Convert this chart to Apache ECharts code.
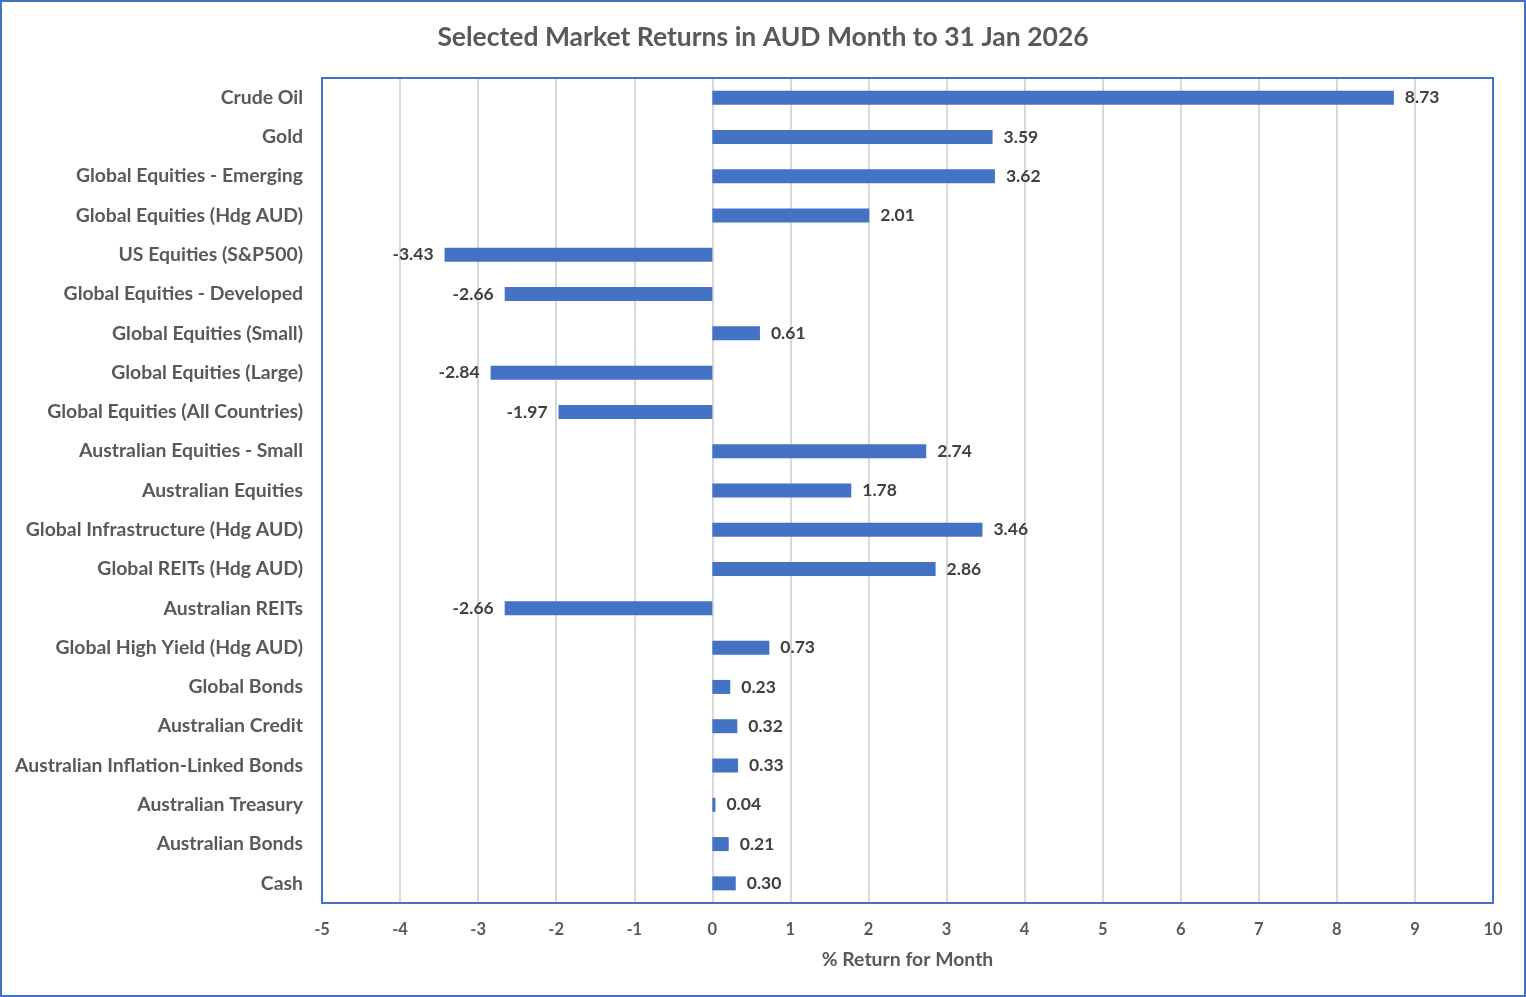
<!DOCTYPE html>
<html><head><meta charset="utf-8">
<script src="https://cdn.jsdelivr.net/npm/echarts@6/dist/echarts.min.js"></script>
<style>html,body{margin:0;padding:0;background:#fff}#c{width:1526px;height:997px}</style>
</head><body><div id="c"></div>
<script>
const categories = ["Crude Oil","Gold","Global Equities - Emerging","Global Equities (Hdg AUD)","US Equities (S&P500)","Global Equities - Developed","Global Equities (Small)","Global Equities (Large)","Global Equities (All Countries)","Australian Equities - Small","Australian Equities","Global Infrastructure (Hdg AUD)","Global REITs (Hdg AUD)","Australian REITs","Global High Yield (Hdg AUD)","Global Bonds","Australian Credit","Australian Inflation-Linked Bonds","Australian Treasury","Australian Bonds","Cash"];
const returns = [8.73,3.59,3.62,2.01,-3.43,-2.66,0.61,-2.84,-1.97,2.74,1.78,3.46,2.86,-2.66,0.73,0.23,0.32,0.33,0.04,0.21,0.30];
const titleText = "Selected Market Returns in AUD Month to 31 Jan 2026";
const axisName = "% Return for Month";
const FONT = "Lato";
const chart = echarts.init(document.getElementById('c'));
chart.setOption({
  animation:false,
  backgroundColor:'#fff',
  title:{text:titleText,left:'center',top:19,textStyle:{fontFamily:FONT,fontSize:26.5,fontWeight:'bold',color:'#595959'}},
  graphic:[
    {type:'rect',z:100,shape:{x:1,y:1,width:1524,height:995},style:{fill:'none',stroke:'#4472C4',lineWidth:2},silent:true},
    {type:'rect',z:100,shape:{x:322,y:78,width:1171,height:825},style:{fill:'none',stroke:'#4472C4',lineWidth:2},silent:true}
  ],
  grid:{left:322,top:78,width:1171,height:825,show:false,containLabel:false},
  xAxis:{type:'value',min:-5,max:10,interval:1,
    axisLine:{show:false},axisTick:{show:false},
    splitLine:{show:true,lineStyle:{color:'#D9D9D9',width:2}},
    axisLabel:{fontFamily:FONT,fontSize:16.5,fontWeight:'bold',color:'#595959',margin:18},
    name:axisName,nameLocation:'middle',nameGap:47,
    nameTextStyle:{fontFamily:FONT,fontSize:19.4,fontWeight:'bold',color:'#595959'}},
  yAxis:{type:'category',data:categories,inverse:true,
    axisLine:{show:false},axisTick:{show:false},
    axisLabel:{fontFamily:FONT,fontSize:19.4,fontWeight:'bold',color:'#595959',margin:19}},
  series:[{type:'bar',barWidth:14,itemStyle:{color:'#4472C4'},
    data:returns.map(v=>({value:v,label:{position:v<0?'left':'right'}})),
    label:{show:true,distance:11,fontFamily:FONT,fontSize:17.5,fontWeight:'bold',color:'#404040',
      formatter:p=>p.value.toFixed(2)}}]
});
</script></body></html>
